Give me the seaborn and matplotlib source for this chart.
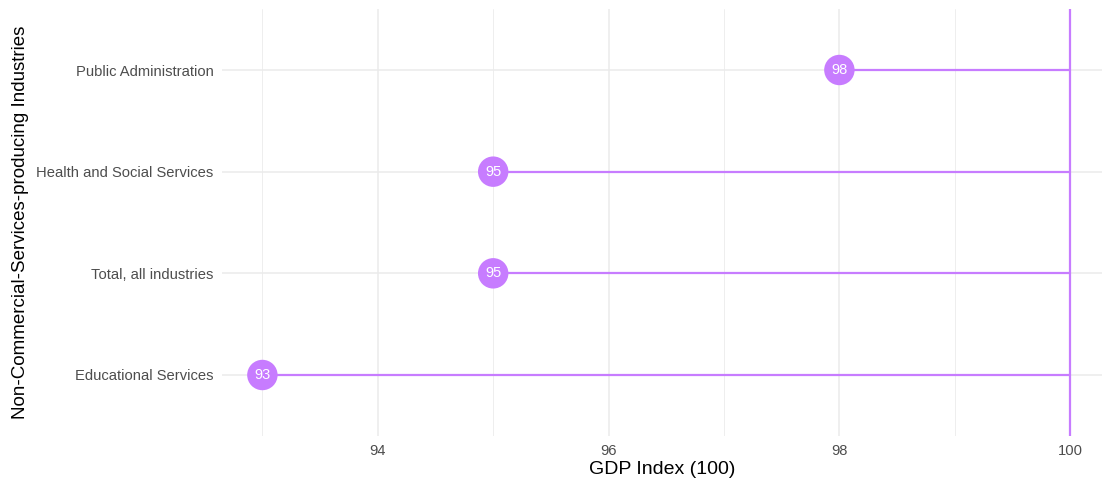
import matplotlib
matplotlib.use("Agg")
import matplotlib.pyplot as plt
import seaborn as sns
import pandas as pd
from matplotlib.ticker import MultipleLocator

categories = ["Educational Services", "Total, all industries",
              "Health and Social Services", "Public Administration"]
values = [93, 95, 95, 98]
reference = 100
x_ticks = [94, 96, 98, 100]

df = pd.DataFrame({"industry": categories, "gdp": values})

sns.set_theme(style="white")
plt.rcParams['font.family'] = ['Liberation Sans', 'DejaVu Sans']

W, H = 1102, 483
fig = plt.figure(figsize=(W / 100, H / 100), dpi=100)
left, right, top, bottom = 222, 1102, 9, 436
ax = fig.add_axes([left / W, 1 - bottom / H, (right - left) / W, (bottom - top) / H])

color = "#C77CFF"
ax.axvline(reference, color=color, lw=1.6, zorder=2)
ax.hlines(df["industry"], df["gdp"], reference, color=color, lw=1.6, zorder=2)
sns.scatterplot(data=df, x="gdp", y="industry", s=480, color=color,
                edgecolor="none", ax=ax, zorder=3, legend=False)
for cat, v in zip(categories, values):
    ax.text(v, cat, f"{v}", color="white", ha="center", va="center",
            fontsize=10.5, zorder=4)

px_per_unit = 115.4
x0 = 92.65
ax.set_xlim(x0, x0 + (right - left) / px_per_unit)
ax.set_ylim(-0.6, len(categories) - 0.4)
ax.set_xticks(x_ticks)
ax.xaxis.set_minor_locator(MultipleLocator(1))
ax.grid(True, which="major", color="#EBEBEB", lw=1.1)
ax.grid(True, which="minor", axis="x", color="#EBEBEB", lw=0.6)
ax.set_axisbelow(True)
for s in ax.spines.values():
    s.set_visible(False)
ax.tick_params(length=0, which="both", labelsize=10.6, labelcolor="#4D4D4D", pad=6)
ax.set_xlabel("GDP Index (100)", fontsize=14, color="black", labelpad=2)
ax.set_ylabel("Non-Commercial-Services-producing Industries", fontsize=13.5,
              color="black", labelpad=5)

fig.savefig("out.png", dpi=100)
